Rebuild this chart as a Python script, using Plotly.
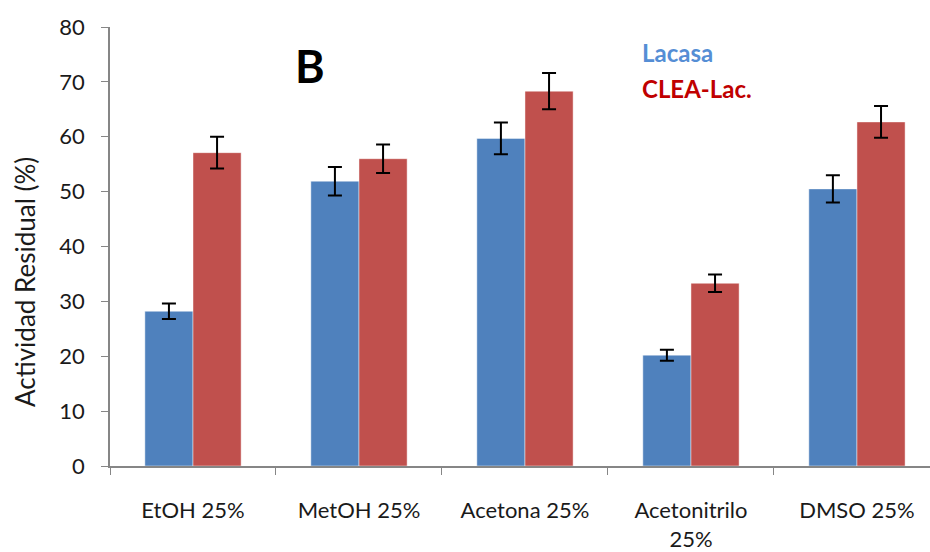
import plotly.graph_objects as go

# Residual activity of free laccase vs. CLEA after exposure to 25% organic solvents
categories = ["EtOH 25%", "MetOH 25%", "Acetona 25%", "Acetonitrilo<br>25%", "DMSO 25%"]
lacasa = [28.2, 51.9, 59.7, 20.2, 50.5]
lacasa_err = [1.4, 2.6, 2.9, 1.0, 2.5]
clea = [57.1, 56.0, 68.3, 33.3, 62.7]
clea_err = [2.9, 2.6, 3.3, 1.6, 2.9]
y_ticks = [0, 10, 20, 30, 40, 50, 60, 70, 80]

BLUE = "#4F81BD"
RED = "#C0504D"
FONT = "Lato, 'Open Sans', sans-serif"

# plot-area geometry in pixels, used to place the free-floating labels
L, R, T, B = 110, 930, 27, 466
W, H = R - L, B - T


def px(x):
    return (x - L) / W


def py(y):
    return (B - y) / H


err_style = dict(type="data", visible=True, color="black", thickness=2, width=7)

fig = go.Figure()
fig.add_trace(go.Bar(
    name="Lacasa", x=categories, y=lacasa,
    marker=dict(color=BLUE, line=dict(color="rgba(255,255,255,0.45)", width=1)),
    error_y=dict(array=lacasa_err, **err_style),
))
fig.add_trace(go.Bar(
    name="CLEA-Lac.", x=categories, y=clea,
    marker=dict(color=RED, line=dict(color="rgba(255,255,255,0.45)", width=1)),
    error_y=dict(array=clea_err, **err_style),
))

fig.update_layout(
    width=930, height=552,
    margin=dict(l=L, r=930 - R, t=T, b=552 - B),
    paper_bgcolor="white", plot_bgcolor="white",
    barmode="group", bargap=0.42, bargroupgap=0,
    showlegend=False,
    font=dict(family=FONT, size=22, color="#1a1a1a"),
)

fig.update_xaxes(
    type="category", range=[-0.5, 4.44],
    showline=True, linecolor="#868686", linewidth=1.5,
    ticks="outside", tickson="boundaries", ticklen=7, tickcolor="#868686",
    ticklabelstandoff=24, showgrid=False, zeroline=False,
    tickfont=dict(family=FONT, size=22),
)
fig.update_yaxes(
    range=[0, 80], tickvals=y_ticks,
    showline=True, linecolor="#868686", linewidth=1.5,
    ticks="outside", ticklen=7, tickcolor="#868686",
    ticklabelstandoff=12, showgrid=False, zeroline=False,
    tickfont=dict(family=FONT, size=22),
)

# y-axis title, set a little below the axis midpoint
fig.add_annotation(
    text="Actividad Residual (%)", textangle=-90,
    xref="paper", yref="paper", x=px(25), y=py(282),
    xanchor="center", yanchor="middle", showarrow=False,
    font=dict(family=FONT, size=26, color="#1a1a1a"),
)
fig.add_annotation(
    text="<b>B</b>", xref="paper", yref="paper",
    x=px(310), y=py(66), xanchor="center", yanchor="middle",
    showarrow=False, font=dict(family=FONT, size=45, color="black"),
)
fig.add_annotation(
    text="<b>Lacasa</b>", xref="paper", yref="paper",
    x=px(640), y=py(52), xanchor="left", yanchor="middle",
    showarrow=False, font=dict(family=FONT, size=24, color="#558ED5"),
)
fig.add_annotation(
    text="<b>CLEA-Lac.</b>", xref="paper", yref="paper",
    x=px(640), y=py(89), xanchor="left", yanchor="middle",
    showarrow=False, font=dict(family=FONT, size=24, color="#C00000"),
)

fig.write_html("out.html")
